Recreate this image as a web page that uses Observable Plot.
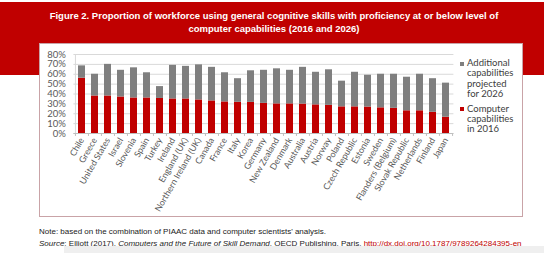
<!DOCTYPE html>
<html><head><meta charset="utf-8">
<script src="https://cdn.jsdelivr.net/npm/d3@7"></script>
<script src="https://cdn.jsdelivr.net/npm/@observablehq/plot@0.6"></script>
<style>
html,body{margin:0;padding:0;background:#fff;width:544px;height:253px;overflow:hidden;position:relative;font-family:"Liberation Sans",Arial,sans-serif;}
#band{position:absolute;left:0;top:2px;width:544px;height:73px;background:#c00000;}
#title{position:absolute;left:0;top:9px;width:548px;text-align:center;color:#fff;font-weight:bold;font-size:9.5px;line-height:13px;white-space:nowrap;}
#box{position:absolute;left:39px;top:43px;width:482px;height:172px;background:#fff;border:1px solid #c9a3a7;}
#chart{position:absolute;left:39px;top:43px;}
#legend{position:absolute;left:459px;top:58px;font-family:Lato,sans-serif;font-size:9.5px;line-height:10.4px;color:#404040;}
#legend .item{position:relative;padding-left:8px;width:52px;margin-bottom:4px;}
#legend .sw{position:absolute;left:1px;top:3.5px;width:4px;height:4px;}
#note{position:absolute;left:39px;top:226px;font-size:8px;color:#222;line-height:11.5px;white-space:nowrap;}
#note a{color:#c00000;text-decoration:none;}
#strip{position:absolute;left:64px;top:246px;width:480px;height:7px;background:#efefef;}
</style></head>
<body>
<div id="band"></div>
<div id="title"></div>
<div id="box"></div>
<div id="chart"></div>
<div id="legend"></div>
<div id="note"></div>
<div id="strip"></div>
<script>
const titleLines = ["Figure 2. Proportion of workforce using general cognitive skills with proficiency at or below level of", "computer capabilities (2016 and 2026)"];
const countries = ["Chile","Greece","United States","Israel","Slovenia","Spain","Turkey","Ireland","England (UK)","Northern Ireland (UK)","Canada","France","Italy","Korea","Germany","New Zealand","Denmark","Australia","Austria","Norway","Poland","Czech Republic","Estonia","Sweden","Flanders (Belgium)","Slovak Republic","Netherlands","Finland","Japan"];
// share of workforce at or below computer capabilities in 2016 (%)
const level2016 = [56,38,38,37,36,36,35.5,35,35,34,33,32,31.6,31.5,30.5,30,30,29.8,29,28.5,27,27,26.8,26,25.5,23,23,21.5,16.5];
// top of stacked bar: level projected for 2026 (%)
const level2026 = [68.5,60,70,64,66.5,61.5,47.5,69,68,69.5,67,61.5,55.5,63.5,64,65.5,64,67,62,64.5,53,62,59,60,60,57,60,55.5,51];
const yTicks = [0,10,20,30,40,50,60,70,80];
const seriesNames = ["Additional capabilities projected for 2026", "Computer capabilities in 2016"];
const seriesColors = ["#7f7f7f", "#c00000"];
const noteLine = "Note: based on the combination of PIAAC data and computer scientists' analysis.";

document.getElementById("title").innerHTML = titleLines.join("<br>");
document.getElementById("note").innerHTML = noteLine + "<br><i>Source</i>: Elliott (2017), <i>Computers and the Future of Skill Demand</i>, OECD Publishing, Paris, <a>http://dx.doi.org/10.1787/9789264284395-en</a>";
document.getElementById("legend").innerHTML = seriesNames.map((s, i) =>
  `<div class="item"><span class="sw" style="background:${seriesColors[i]}"></span>${s}</div>`).join("");

const rows = countries.map((c, i) => ({country: c, v2016: level2016[i], v2026: level2026[i]}));
const step = (454 - 73.4) / countries.length;

const chart = Plot.plot({
  width: 420, height: 173,
  marginLeft: 34.4, marginRight: 5.6, marginTop: 11, marginBottom: 83,
  style: {fontFamily: "Lato, sans-serif", fontSize: "8px", color: "#595959", background: "transparent", overflow: "visible"},
  x: {domain: countries, paddingInner: 0.47, paddingOuter: 0.235, label: null},
  y: {domain: [0, 80], label: null},
  marks: [
    Plot.gridY(yTicks, {stroke: "#d9d9d9", strokeOpacity: 1}),
    Plot.ruleX([0], {x: () => countries[0], dx: -step/2, y1: 0, y2: 80, stroke: "#d9d9d9"}),
    Plot.barY(rows, {x: "country", y1: 0, y2: "v2016", fill: seriesColors[1]}),
    Plot.barY(rows, {x: "country", y1: "v2016", y2: "v2026", fill: seriesColors[0]}),
    Plot.ruleY([0], {stroke: "#bfbfbf"}),
    Plot.ruleX(countries, {x: d => d, dx: -step/2, y1: 0, y2: -3, stroke: "#bfbfbf"}),
    Plot.ruleX([countries[countries.length-1]], {x: d => d, dx: step/2, y1: 0, y2: -3, stroke: "#bfbfbf"}),
    Plot.axisY(yTicks, {tickSize: 0, tickPadding: 8, tickFormat: d => d + "%", fontSize: 9.5, label: null}),
    Plot.axisX({tickSize: 0, tickRotate: -60, tickPadding: 5, fontSize: 8.8, label: null})
  ]
});
document.getElementById("chart").appendChild(chart);
</script>
</body></html>
